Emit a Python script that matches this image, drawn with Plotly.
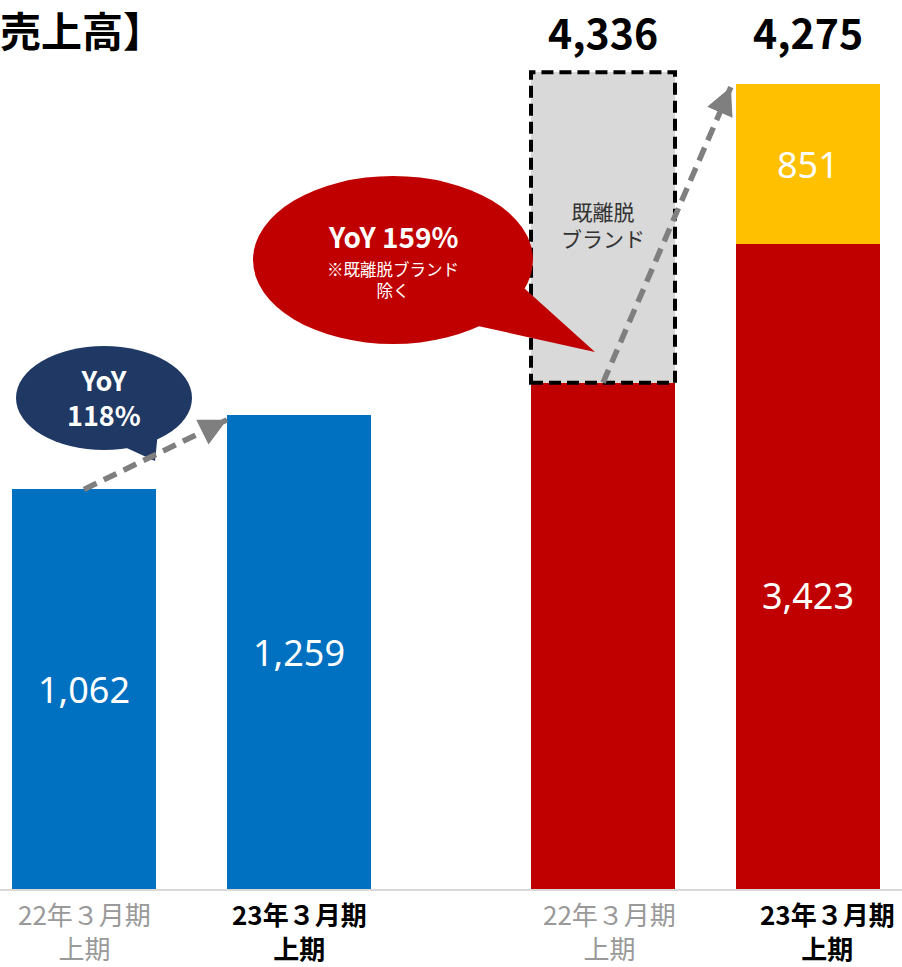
import plotly.graph_objects as go

# ---- data ----
PERIODS = ["22年３月期上期", "23年３月期上期"]
PERIOD_LABELS = ["22年３月期<br>上期", "23年３月期<br>上期"]

LEFT_SALES = [1062, 1259]
RIGHT_CONTINUING = [2690, 3423]
RIGHT_EXITED = [1646, None]
RIGHT_NEW = [None, 851]
RIGHT_TOTALS = [4336, 4275]

TITLE = "【売上高】"
LEFT_YOY = "YoY<br>118%"
RIGHT_YOY = "YoY 159%"
RIGHT_YOY_NOTE = "※既離脱ブランド<br>除く"
EXITED_LABEL = "既離脱<br>ブランド"

# ---- style ----
BLUE = "#0070C0"
RED = "#C00000"
YELLOW = "#FFC000"
LIGHT_GRAY = "#D9D9D9"
NAVY = "#1F3864"
ARROW_GRAY = "#7F7F7F"
JP = "Noto Sans CJK JP"
NUM = "Noto Sans"

W, H, MB = 902, 967, 77
PH = H - MB
W_LEFT = 0.67
W_RIGHT = 0.7024


def px(x):
    return x / W


def py(y):
    return (PH - y) / PH


fig = go.Figure()

fig.add_trace(go.Bar(x=PERIODS, y=LEFT_SALES, width=W_LEFT, marker_color=BLUE,
                     marker_line_width=0, xaxis="x", yaxis="y", hoverinfo="skip"))
fig.add_trace(go.Bar(x=PERIODS, y=RIGHT_CONTINUING, width=W_RIGHT, marker_color=RED,
                     marker_line_width=0, xaxis="x2", yaxis="y2", hoverinfo="skip"))
fig.add_trace(go.Bar(x=PERIODS, y=RIGHT_EXITED, width=W_RIGHT, marker_color=LIGHT_GRAY,
                     marker_line_width=0, xaxis="x2", yaxis="y2", hoverinfo="skip"))
fig.add_trace(go.Bar(x=PERIODS, y=RIGHT_NEW, width=W_RIGHT, marker_color=YELLOW,
                     marker_line_width=0, xaxis="x2", yaxis="y2", hoverinfo="skip"))

shapes = []
annotations = []

# dashed outline around the exited-brand segment
shapes.append(dict(type="rect", xref="x2", yref="y2",
                   x0=-W_RIGHT / 2, x1=W_RIGHT / 2,
                   y0=RIGHT_CONTINUING[0], y1=RIGHT_CONTINUING[0] + RIGHT_EXITED[0],
                   line=dict(color="black", width=4, dash="12px,6px"),
                   fillcolor="rgba(0,0,0,0)"))

# baseline
shapes.append(dict(type="line", xref="paper", yref="paper", x0=0, x1=1, y0=0, y1=0,
                   line=dict(color=LIGHT_GRAY, width=2)))

# speech bubbles
shapes.append(dict(type="circle", xref="paper", yref="paper",
                   x0=px(16), x1=px(192), y0=py(450), y1=py(346),
                   fillcolor=NAVY, line_width=0))
shapes.append(dict(type="path", xref="paper", yref="paper",
                   path=f"M{px(118)},{py(444)} L{px(158)},{py(432)} L{px(155)},{py(461)} Z",
                   fillcolor=NAVY, line_width=0))
shapes.append(dict(type="circle", xref="paper", yref="paper",
                   x0=px(253), x1=px(533), y0=py(344), y1=py(176),
                   fillcolor=RED, line_width=0))
shapes.append(dict(type="path", xref="paper", yref="paper",
                   path=f"M{px(478)},{py(326)} L{px(524)},{py(288)} L{px(595)},{py(352)} Z",
                   fillcolor=RED, line_width=0))

# growth arrows (dashed shaft + arrowhead)
arrows = [
    dict(xr="x", yr="y", x0=0, y0=LEFT_SALES[0],
         x1=1 - W_LEFT / 2, y1=LEFT_SALES[1] * 0.99, ax=-16, ay=8),
    dict(xr="x2", yr="y2", x0=0, y0=RIGHT_CONTINUING[0],
         x1=1 - W_RIGHT / 2 - 0.025, y1=RIGHT_TOTALS[1] * 0.996, ax=-7, ay=16),
]
for a in arrows:
    shapes.append(dict(type="line", xref=a["xr"], yref=a["yr"],
                       x0=a["x0"], y0=a["y0"], x1=a["x1"], y1=a["y1"],
                       line=dict(color=ARROW_GRAY, width=5.5, dash="14px,8px")))
    annotations.append(dict(xref=a["xr"], yref=a["yr"], x=a["x1"], y=a["y1"],
                            ax=a["ax"], ay=a["ay"], text="", showarrow=True,
                            arrowhead=2, arrowsize=1, arrowwidth=5.5,
                            arrowcolor=ARROW_GRAY, standoff=0))

# period labels under bars
label_styles = [dict(color="#999999", weight="normal"), dict(color="#000000", weight="bold")]
x_shifts = {"x": [0, 0], "x2": [6, 19]}
for xr in ["x", "x2"]:
    for i, lab in enumerate(PERIOD_LABELS):
        st = label_styles[i]
        annotations.append(dict(xref=xr, yref="paper", x=i, y=0, xanchor="center",
                                yanchor="top", xshift=x_shifts[xr][i], yshift=-4,
                                text=lab, showarrow=False, align="center",
                                borderpad=0,
                                font=dict(family=JP, size=26, color=st["color"],
                                          weight=st["weight"])))

# values inside bars
value_font = dict(family=NUM, size=36, color="white")
for i, v in enumerate(LEFT_SALES):
    annotations.append(dict(xref="x", yref="y", x=i, y=v / 2, xanchor="center",
                            yanchor="middle", text=f"{v:,}", showarrow=False,
                            font=value_font))
annotations.append(dict(xref="x2", yref="y2", x=1, y=RIGHT_CONTINUING[1] / 2,
                        xanchor="center", yanchor="middle", yshift=-28,
                        text=f"{RIGHT_CONTINUING[1]:,}", showarrow=False, font=value_font))
annotations.append(dict(xref="x2", yref="y2", x=1,
                        y=RIGHT_CONTINUING[1] + RIGHT_NEW[1] / 2,
                        xanchor="center", yanchor="middle",
                        text=f"{RIGHT_NEW[1]:,}", showarrow=False, font=value_font))

# totals above the right-hand bars
for i, t in enumerate(RIGHT_TOTALS):
    annotations.append(dict(xref="x2", yref="paper", x=i, y=1, xanchor="center",
                            yanchor="middle", yshift=-31, text=f"<b>{t:,}</b>",
                            showarrow=False,
                            font=dict(family=JP, size=41, color="black")))

# label inside the exited-brand segment
annotations.append(dict(xref="x2", yref="paper", x=0, y=py(224), xanchor="center",
                        yanchor="middle", text=EXITED_LABEL, showarrow=False,
                        align="center", font=dict(family=JP, size=21, color="#333333")))

# bubble texts
annotations.append(dict(xref="paper", yref="paper", x=px(104), y=py(397),
                        xanchor="center", yanchor="middle",
                        text=f"<b>{LEFT_YOY}</b>", showarrow=False, align="center",
                        font=dict(family=JP, size=27, color="white")))
annotations.append(dict(xref="paper", yref="paper", x=px(393), y=py(236),
                        xanchor="center", yanchor="middle", borderpad=0,
                        text=f"<b>{RIGHT_YOY}</b>", showarrow=False,
                        font=dict(family=JP, size=28, color="white")))
annotations.append(dict(xref="paper", yref="paper", x=px(393), y=py(279),
                        xanchor="center", yanchor="middle", borderpad=0,
                        text=RIGHT_YOY_NOTE, showarrow=False, align="center",
                        font=dict(family=JP, size=16.5, color="white")))

# title
annotations.append(dict(xref="paper", yref="paper", x=px(166), y=py(29),
                        xanchor="right", yanchor="middle", text=f"<b>{TITLE}</b>",
                        showarrow=False, font=dict(family=JP, size=41, color="black")))

axis_common = dict(showgrid=False, zeroline=False, showticklabels=False,
                   showline=False, ticks="", fixedrange=True)

fig.update_layout(
    width=W, height=H,
    margin=dict(l=0, r=0, t=0, b=MB),
    paper_bgcolor="white", plot_bgcolor="white",
    barmode="stack", showlegend=False,
    xaxis=dict(domain=[0, 0.45], range=[-0.3907, 1.4972], type="category", **axis_common),
    yaxis=dict(domain=[0, 1], range=[0, 2359.5], anchor="x", **axis_common),
    xaxis2=dict(domain=[0.55, 1], range=[-0.5215, 1.4585], type="category",
                anchor="y2", **axis_common),
    yaxis2=dict(domain=[0, 1], range=[0, 4719], anchor="x2", **axis_common),
    shapes=shapes,
    annotations=annotations,
)

fig.write_html("out.html")
